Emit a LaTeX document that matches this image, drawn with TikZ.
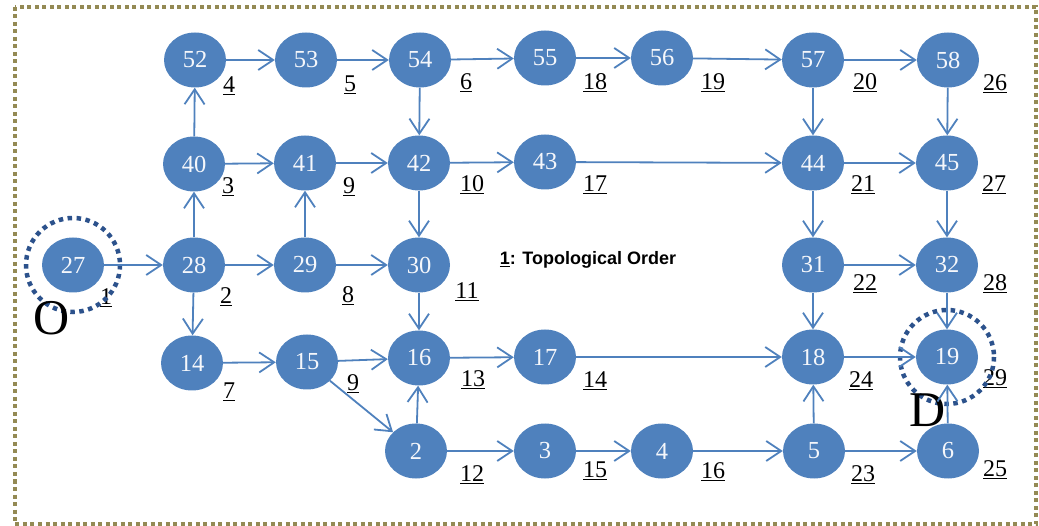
\documentclass[tikz,border=0pt]{standalone}
\usepackage{fontspec}
\setmainfont{Liberation Serif}
\newfontfamily\labelsans{Liberation Sans}
\usetikzlibrary{shapes,arrows.meta}
\definecolor{nodeblue}{RGB}{79,129,189}
\definecolor{ringblue}{RGB}{44,82,140}
\definecolor{frameolive}{RGB}{148,138,84}

\begin{document}
\begin{tikzpicture}[x=1pt,y=-1pt,
  vert/.style={ellipse,fill=nodeblue,minimum width=62pt,minimum height=55pt,inner sep=0pt,
    text=white!94!nodeblue,font=\fontsize{24.5}{26}\selectfont},
  ord/.style={inner sep=0pt,font=\fontsize{24}{26}\selectfont},
  edge/.style={draw=nodeblue,line width=1.8pt,-{Straight Barb[length=15pt,width=20pt,line width=1.8pt]}},
  ring/.style={draw=ringblue,line width=4.5pt,dash pattern=on 4.5pt off 4.5pt},
  big/.style={inner sep=0pt,font=\fontsize{50}{52}\selectfont}]
\useasboundingbox (0,0) rectangle (1039,526);
\draw[frameolive,line width=4pt,dash pattern=on 4pt off 3.5pt] (15,7) rectangle (1036,524);
% vertices
\node[vert] (n52) at (195,60) {52};
\node[vert] (n53) at (306,60) {53};
\node[vert] (n54) at (420,60) {54};
\node[vert] (n55) at (545,58) {55};
\node[vert] (n56) at (662,58) {56};
\node[vert] (n57) at (813,60) {57};
\node[vert] (n58) at (948,60) {58};
\node[vert] (n40) at (194,164) {40};
\node[vert] (n41) at (305,163) {41};
\node[vert] (n42) at (419,163) {42};
\node[vert] (n43) at (545,162) {43};
\node[vert] (n44) at (813,163) {44};
\node[vert] (n45) at (947,163) {45};
\node[vert] (n27) at (73,265) {27};
\node[vert] (n28) at (194,265) {28};
\node[vert] (n29) at (305,265) {29};
\node[vert] (n30) at (419,265) {30};
\node[vert] (n31) at (813,265) {31};
\node[vert] (n32) at (947,265) {32};
\node[vert] (n14) at (192,363) {14};
\node[vert] (n15) at (307,362) {15};
\node[vert] (n16) at (419,358) {16};
\node[vert] (n17) at (545,357) {17};
\node[vert] (n18) at (813,357) {18};
\node[vert] (n19) at (947,357) {19};
\node[vert] (n2) at (416,451) {2};
\node[vert] (n3) at (545,451) {3};
\node[vert] (n4) at (662,451) {4};
\node[vert] (n5) at (814,451) {5};
\node[vert] (n6) at (948,451) {6};
% topological order of each vertex
\node[ord] (l27) at (106,298) {\underline{1}};
\node[ord] (l28) at (226,297) {\underline{2}};
\node[ord] (l40) at (228,187) {\underline{3}};
\node[ord] (l52) at (229,86) {\underline{4}};
\node[ord] (l53) at (350,85) {\underline{5}};
\node[ord] (l54) at (466,83) {\underline{6}};
\node[ord] (l14) at (229,392) {\underline{7}};
\node[ord] (l29) at (348,296) {\underline{8}};
\node[ord] (l41) at (349,187) {\underline{9}};
\node[ord] (l15) at (353,384) {\underline{9}};
\node[ord] (l42) at (472,185) {\underline{10}};
\node[ord] (l30) at (467,292) {\underline{11}};
\node[ord] (l2) at (472,475) {\underline{12}};
\node[ord] (l16) at (473,380) {\underline{13}};
\node[ord] (l17) at (595,381) {\underline{14}};
\node[ord] (l3) at (595,471) {\underline{15}};
\node[ord] (l4) at (713,472) {\underline{16}};
\node[ord] (l43) at (595,185) {\underline{17}};
\node[ord] (l55) at (595,83) {\underline{18}};
\node[ord] (l56) at (713,83) {\underline{19}};
\node[ord] (l57) at (865,83) {\underline{20}};
\node[ord] (l44) at (863,185) {\underline{21}};
\node[ord] (l31) at (865,284) {\underline{22}};
\node[ord] (l5) at (863,475) {\underline{23}};
\node[ord] (l18) at (861,381) {\underline{24}};
\node[ord] (l6) at (995,470) {\underline{25}};
\node[ord] (l58) at (995,84) {\underline{26}};
\node[ord] (l45) at (994,185) {\underline{27}};
\node[ord] (l32) at (995,284) {\underline{28}};
\node[ord] (l19) at (995,379) {\underline{29}};
% legend, origin and destination
\node[inner sep=0pt,font=\labelsans\bfseries\fontsize{18}{20}\selectfont] (key) at (588,260) {\underline{1}: Topological Order};
\draw[ring] (n27.center) circle (47);
\draw[ring] (n19.center) circle (47);
\node[big] (orig) at (52,318) {O};
\node[big] (dest) at (928,410) {D};
% edges
\draw[edge] (n27) -- (n28);
\draw[edge] (n28) -- (n29);
\draw[edge] (n29) -- (n30);
\draw[edge] (n28) -- (n40);
\draw[edge] (n28) -- (n14);
\draw[edge] (n40) -- (n52);
\draw[edge] (n40) -- (n41);
\draw[edge] (n29) -- (n41);
\draw[edge] (n52) -- (n53);
\draw[edge] (n53) -- (n54);
\draw[edge] (n54) -- (n55);
\draw[edge] (n55) -- (n56);
\draw[edge] (n56) -- (n57);
\draw[edge] (n57) -- (n58);
\draw[edge] (n54) -- (n42);
\draw[edge] (n41) -- (n42);
\draw[edge] (n42) -- (n43);
\draw[edge] (n42) -- (n30);
\draw[edge] (n43) -- (n44);
\draw[edge] (n57) -- (n44);
\draw[edge] (n58) -- (n45);
\draw[edge] (n44) -- (n45);
\draw[edge] (n44) -- (n31);
\draw[edge] (n45) -- (n32);
\draw[edge] (n31) -- (n32);
\draw[edge] (n31) -- (n18);
\draw[edge] (n32) -- (n19);
\draw[edge] (n30) -- (n16);
\draw[edge] (n14) -- (n15);
\draw[edge] (n15) -- (n16);
\draw[edge] (n15) -- (n2);
\draw[edge] (n2) -- (n16);
\draw[edge] (n16) -- (n17);
\draw[edge] (n17) -- (n18);
\draw[edge] (n18) -- (n19);
\draw[edge] (n2) -- (n3);
\draw[edge] (n3) -- (n4);
\draw[edge] (n4) -- (n5);
\draw[edge] (n5) -- (n18);
\draw[edge] (n5) -- (n6);
\draw[edge] (n6) -- (n19);
\end{tikzpicture}
\end{document}
